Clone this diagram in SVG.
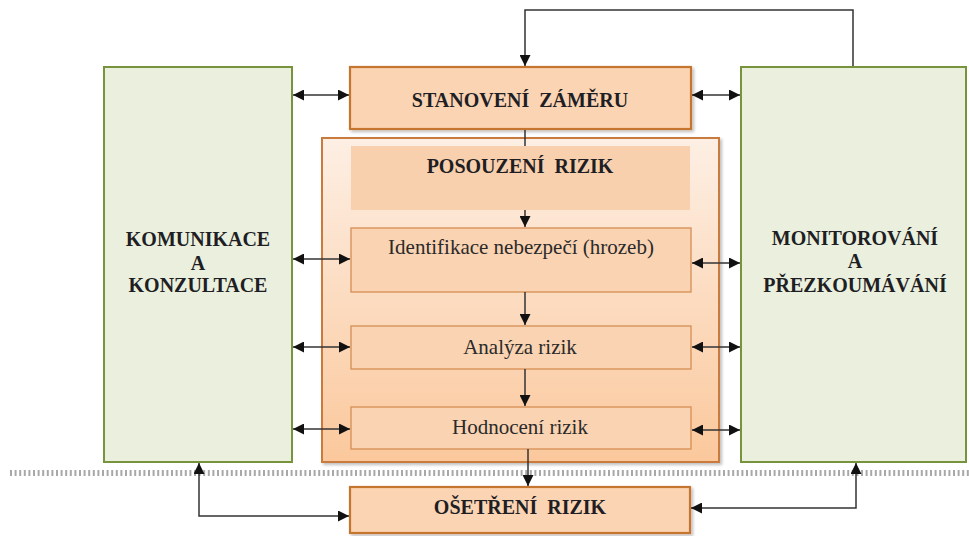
<svg xmlns="http://www.w3.org/2000/svg" width="969" height="536" viewBox="0 0 969 536">
<style>
.green{fill:#ebf0de;stroke:#77933c;stroke-width:2}
.main{fill:#fbd4b4;stroke:#c5742f;stroke-width:2.2}
.step{fill:#fad3b2;stroke:#d8935b;stroke-width:1.4}
.head{fill:#f9d0ad;stroke:none}
.tb{font-family:"Liberation Serif","Times New Roman",serif;font-weight:bold;font-size:20px;fill:#1e1e24;text-anchor:middle}
.tr{font-family:"Liberation Serif","Times New Roman",serif;font-size:21px;fill:#2a2a2a;text-anchor:middle}
.c{fill:none;stroke:#333;stroke-width:1.5}
.dbl{marker-start:url(#ah);marker-end:url(#ah)}
.one{marker-end:url(#ah)}
</style>
<defs>
<marker id="ah" viewBox="0 0 10 10" refX="10" refY="5" markerWidth="11" markerHeight="11" markerUnits="userSpaceOnUse" orient="auto-start-reverse">
<path d="M0,0 L10,5 L0,10 z" fill="#111"/>
</marker>
<linearGradient id="gp" x1="0" y1="0" x2="0" y2="1">
<stop offset="0" stop-color="#fdefe4"/>
<stop offset="1" stop-color="#fbc89c"/>
</linearGradient>
<filter id="sh" x="-5%" y="-5%" width="112%" height="115%">
<feDropShadow dx="2" dy="2" stdDeviation="1.5" flood-color="#000" flood-opacity="0.25"/>
</filter>
</defs>

<line x1="10" y1="473" x2="969" y2="473" stroke="#a8a8a8" stroke-width="6" stroke-dasharray="2 2.6"/>

<g id="komunikace">
<rect class="green" x="104" y="67" width="188" height="395"/>
<text class="tb" x="198" y="246">KOMUNIKACE</text>
<text class="tb" x="198" y="270">A</text>
<text class="tb" x="198" y="292">KONZULTACE</text>
</g>

<g id="monitorovani">
<rect class="green" x="741" y="67" width="225" height="395"/>
<text class="tb" x="855" y="245">MONITOROVÁNÍ</text>
<text class="tb" x="855" y="268">A</text>
<text class="tb" x="855" y="292">PŘEZKOUMÁVÁNÍ</text>
</g>

<g id="stanoveni">
<rect class="main" x="350" y="67" width="341" height="62" filter="url(#sh)"/>
<text class="tb" x="520" y="107" xml:space="preserve">STANOVENÍ  ZÁMĚRU</text>
</g>

<g id="posouzeni">
<rect x="322" y="138" width="397" height="324" fill="url(#gp)" stroke="#c97a3c" stroke-width="2" filter="url(#sh)"/>
<rect class="head" x="351" y="146" width="339" height="64"/>
<text class="tb" x="520" y="173" xml:space="preserve">POSOUZENÍ  RIZIK</text>
</g>

<g id="identifikace">
<rect class="step" x="351" y="228" width="340" height="64"/>
<text class="tr" x="521" y="254">Identifikace nebezpečí (hrozeb)</text>
</g>

<g id="analyza">
<rect class="step" x="351" y="326" width="340" height="43"/>
<text class="tr" x="520" y="354">Analýza rizik</text>
</g>

<g id="hodnoceni">
<rect class="step" x="351" y="407" width="340" height="42"/>
<text class="tr" x="520" y="434">Hodnocení rizik</text>
</g>

<g id="osetreni">
<rect class="main" x="350" y="487" width="340" height="46" filter="url(#sh)"/>
<text class="tb" x="520" y="514" xml:space="preserve">OŠETŘENÍ  RIZIK</text>
</g>

<g id="connectors">
<polyline class="c one" points="853,66 853,10 525,10 525,66"/>
<line class="c" x1="525" y1="130" x2="525" y2="146"/>
<line class="c one" x1="525" y1="210" x2="525" y2="227"/>
<line class="c one" x1="525" y1="292" x2="525" y2="325"/>
<line class="c one" x1="525" y1="369" x2="525" y2="406"/>
<line class="c one" x1="528" y1="449" x2="528" y2="486"/>
<line class="c dbl" x1="293" y1="95" x2="349" y2="95"/>
<line class="c dbl" x1="293" y1="259" x2="350" y2="259"/>
<line class="c dbl" x1="293" y1="347" x2="350" y2="347"/>
<line class="c dbl" x1="293" y1="429" x2="350" y2="429"/>
<line class="c dbl" x1="692" y1="95" x2="740" y2="95"/>
<line class="c dbl" x1="692" y1="263" x2="740" y2="263"/>
<line class="c dbl" x1="692" y1="347" x2="740" y2="347"/>
<line class="c dbl" x1="692" y1="430" x2="740" y2="430"/>
<polyline class="c dbl" points="349,516 199,516 199,463"/>
<polyline class="c dbl" points="691,508 856,508 856,463"/>
</g>
</svg>
